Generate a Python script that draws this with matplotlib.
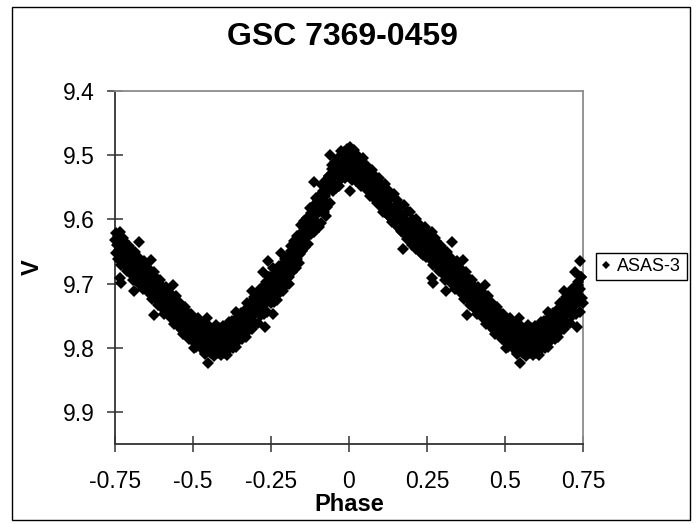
import numpy as np
import matplotlib
matplotlib.use('Agg')
import matplotlib.pyplot as plt
from matplotlib.patches import Rectangle

plt.rcParams['font.family'] = ['Liberation Sans', 'DejaVu Sans']

# ASAS-3 phased light curve of GSC 7369-0459, one cycle (-0.25 .. 0.75)
# points between 0.25 and 0.75 are drawn a second time one cycle earlier
phase = [
    -0.250, -0.247, -0.244, -0.242, -0.240, -0.237, -0.235, -0.232, -0.230, -0.227,
    -0.224, -0.221, -0.218, -0.216, -0.213, -0.210, -0.208, -0.205, -0.202, -0.200,
    -0.197, -0.194, -0.191, -0.189, -0.186, -0.183, -0.180, -0.177, -0.175, -0.172,
    -0.169, -0.166, -0.164, -0.161, -0.158, -0.155, -0.153, -0.150, -0.147, -0.144,
    -0.142, -0.139, -0.136, -0.133, -0.131, -0.128, -0.125, -0.122, -0.120, -0.117,
    -0.114, -0.112, -0.110, -0.107, -0.104, -0.101, -0.098, -0.095, -0.093, -0.090,
    -0.087, -0.084, -0.082, -0.079, -0.076, -0.073, -0.071, -0.068, -0.065, -0.062,
    -0.060, -0.057, -0.055, -0.052, -0.049, -0.047, -0.044, -0.041, -0.038, -0.036,
    -0.033, -0.030, -0.027, -0.024, -0.021, -0.018, -0.015, -0.012, -0.009, -0.006,
    -0.003,
    0.000, 0.002, 0.004, 0.005, 0.007, 0.009, 0.011, 0.013, 0.015, 0.018,
    0.020, 0.022, 0.025, 0.027, 0.030, 0.032, 0.035, 0.038, 0.040, 0.043,
    0.046, 0.048, 0.051, 0.054, 0.057, 0.060, 0.062, 0.065, 0.068, 0.071,
    0.073, 0.076, 0.079, 0.082, 0.085, 0.087, 0.090, 0.093, 0.096, 0.099,
    0.102, 0.105, 0.108, 0.111, 0.114, 0.117, 0.120, 0.123, 0.126, 0.129,
    0.132, 0.135, 0.138, 0.141, 0.144, 0.147, 0.150, 0.153, 0.156, 0.159,
    0.162, 0.165, 0.168, 0.171, 0.174, 0.177, 0.180, 0.183, 0.186, 0.189,
    0.192, 0.195, 0.198, 0.201, 0.204, 0.207, 0.210, 0.213, 0.216, 0.219,
    0.222, 0.225, 0.228, 0.231, 0.234, 0.237, 0.240, 0.243, 0.246, 0.249,
    0.252, 0.255, 0.258, 0.260, 0.263, 0.265, 0.266, 0.268, 0.269, 0.271,
    0.274, 0.277, 0.280, 0.283, 0.286, 0.289, 0.292, 0.295, 0.298, 0.301,
    0.304, 0.307, 0.310, 0.312, 0.315, 0.318, 0.321, 0.324, 0.327, 0.329,
    0.332, 0.335, 0.338, 0.341, 0.344, 0.347, 0.350, 0.353, 0.356, 0.359,
    0.362, 0.365, 0.368, 0.371, 0.374, 0.377, 0.380, 0.383, 0.386, 0.389,
    0.392, 0.395, 0.398, 0.401, 0.404, 0.407, 0.410, 0.413, 0.416, 0.419,
    0.422, 0.425, 0.428, 0.431, 0.434, 0.436, 0.439, 0.442, 0.445, 0.448,
    0.451, 0.454, 0.457, 0.460, 0.463, 0.466, 0.469, 0.472, 0.475, 0.478,
    0.481, 0.484, 0.487, 0.490, 0.493, 0.496, 0.499,
    0.502, 0.504, 0.505, 0.508, 0.511, 0.514, 0.517, 0.520, 0.523, 0.526,
    0.529, 0.532, 0.535, 0.538, 0.541, 0.544, 0.546, 0.548, 0.550, 0.553,
    0.556, 0.559, 0.562, 0.565, 0.568, 0.571, 0.574, 0.577, 0.580, 0.583,
    0.586, 0.589, 0.592, 0.595, 0.598, 0.601, 0.604, 0.607, 0.610, 0.613,
    0.616, 0.619, 0.622, 0.625, 0.628, 0.631, 0.634, 0.637, 0.640, 0.643,
    0.646, 0.649, 0.652, 0.655, 0.658, 0.661, 0.664, 0.667, 0.670, 0.673,
    0.676, 0.679, 0.682, 0.685, 0.688, 0.691, 0.694, 0.697, 0.700, 0.703,
    0.706, 0.709, 0.712, 0.715, 0.718, 0.721, 0.724, 0.727, 0.730, 0.732,
    0.735, 0.738, 0.740, 0.742, 0.745, 0.747,
]
vmag = [
    9.716, 9.702, 9.676, 9.748, 9.710, 9.694, 9.720, 9.698, 9.686, 9.708,
    9.692, 9.680, 9.652, 9.700, 9.684, 9.672, 9.694, 9.678, 9.664, 9.688,
    9.672, 9.658, 9.690, 9.666, 9.650, 9.672, 9.660, 9.644, 9.668, 9.652,
    9.638, 9.662, 9.646, 9.630, 9.654, 9.640, 9.622, 9.648, 9.632, 9.614,
    9.636, 9.624, 9.606, 9.628, 9.612, 9.600, 9.622, 9.606, 9.590, 9.612,
    9.598, 9.542, 9.584, 9.604, 9.578, 9.592, 9.570, 9.612, 9.584, 9.562,
    9.576, 9.556, 9.570, 9.548, 9.564, 9.594, 9.540, 9.556, 9.532, 9.548,
    9.500, 9.538, 9.522, 9.544, 9.516, 9.530, 9.546, 9.512, 9.526, 9.504,
    9.520, 9.536, 9.506, 9.518, 9.530, 9.500, 9.514, 9.526, 9.506, 9.520,
    9.532,
    9.496, 9.514, 9.488, 9.556, 9.508, 9.524, 9.502, 9.518, 9.532, 9.510,
    9.524, 9.540, 9.514, 9.530, 9.520, 9.536, 9.526, 9.544, 9.522, 9.536,
    9.530, 9.548, 9.534, 9.544, 9.530, 9.552, 9.540, 9.556, 9.544, 9.538,
    9.560, 9.548, 9.566, 9.552, 9.546, 9.570, 9.556, 9.574, 9.560, 9.552,
    9.578, 9.566, 9.584, 9.570, 9.562, 9.588, 9.576, 9.592, 9.578, 9.570,
    9.596, 9.584, 9.600, 9.588, 9.580, 9.604, 9.594, 9.610, 9.598, 9.590,
    9.614, 9.602, 9.618, 9.606, 9.646, 9.598, 9.622, 9.610, 9.630, 9.616,
    9.606, 9.632, 9.620, 9.640, 9.626, 9.614, 9.638, 9.626, 9.646, 9.632,
    9.620, 9.644, 9.632, 9.652, 9.638, 9.628, 9.650, 9.638, 9.658, 9.644,
    9.632, 9.652, 9.640, 9.626, 9.648, 9.692, 9.619, 9.656, 9.699, 9.642,
    9.660, 9.648, 9.634, 9.664, 9.652, 9.668, 9.656, 9.644, 9.672, 9.660,
    9.676, 9.664, 9.652, 9.712, 9.680, 9.668, 9.686, 9.672, 9.660, 9.635,
    9.690, 9.678, 9.696, 9.684, 9.672, 9.700, 9.688, 9.706, 9.692, 9.680,
    9.708, 9.663, 9.698, 9.716, 9.702, 9.749, 9.690, 9.720, 9.708, 9.726,
    9.712, 9.700, 9.730, 9.718, 9.736, 9.722, 9.710, 9.740, 9.726, 9.744,
    9.730, 9.718, 9.748, 9.736, 9.754, 9.702, 9.740, 9.728, 9.758, 9.746,
    9.764, 9.750, 9.738, 9.766, 9.754, 9.772, 9.758, 9.746, 9.776, 9.764,
    9.780, 9.766, 9.756, 9.784, 9.772, 9.788, 9.776,
    9.766, 9.800, 9.782, 9.770, 9.790, 9.778, 9.766, 9.794, 9.782, 9.772,
    9.798, 9.786, 9.776, 9.810, 9.790, 9.780, 9.754, 9.824, 9.796, 9.784,
    9.806, 9.792, 9.780, 9.802, 9.790, 9.770, 9.798, 9.786, 9.808, 9.794,
    9.776, 9.800, 9.788, 9.770, 9.796, 9.782, 9.806, 9.790, 9.774, 9.796,
    9.762, 9.784, 9.770, 9.792, 9.776, 9.760, 9.786, 9.744, 9.770, 9.790,
    9.756, 9.776, 9.762, 9.748, 9.772, 9.758, 9.780, 9.752, 9.740, 9.766,
    9.748, 9.736, 9.758, 9.742, 9.712, 9.750, 9.734, 9.724, 9.748, 9.730,
    9.718, 9.742, 9.724, 9.710, 9.736, 9.716, 9.682, 9.704, 9.767, 9.720,
    9.698, 9.728, 9.665, 9.708, 9.690, 9.722,
]

# points along the bright (upper) edge of the band
phase_hi = [
    -0.245, -0.235, -0.225, -0.215, -0.205, -0.195, -0.185, -0.175, -0.165, -0.155,
    -0.145, -0.135, -0.125, -0.115, -0.105, -0.095, -0.085, -0.075, -0.065, -0.055,
    -0.045, -0.035, -0.025, -0.015, -0.005, 0.005, 0.015, 0.025, 0.035, 0.045,
    0.055, 0.065, 0.075, 0.085, 0.095, 0.105, 0.115, 0.125, 0.135, 0.145,
    0.155, 0.165, 0.175, 0.185, 0.195, 0.205, 0.215, 0.225, 0.235, 0.245,
    0.255, 0.265, 0.275, 0.285, 0.295, 0.305, 0.315, 0.325, 0.335, 0.345,
    0.355, 0.365, 0.375, 0.385, 0.395, 0.405, 0.415, 0.425, 0.435, 0.445,
    0.455, 0.465, 0.475, 0.485, 0.495, 0.505, 0.515, 0.525, 0.535, 0.545,
    0.555, 0.565, 0.575, 0.585, 0.595, 0.605, 0.615, 0.625, 0.635, 0.645,
    0.655, 0.665, 0.675, 0.685, 0.695, 0.705, 0.715, 0.725, 0.735, 0.745,
]
vmag_hi = [
    9.688, 9.685, 9.672, 9.671, 9.661, 9.659, 9.641, 9.634, 9.626, 9.608,
    9.603, 9.598, 9.582, 9.579, 9.567, 9.564, 9.547, 9.540, 9.532, 9.515,
    9.511, 9.508, 9.494, 9.495, 9.491, 9.497, 9.492, 9.499, 9.506, 9.505,
    9.515, 9.524, 9.523, 9.533, 9.535, 9.547, 9.545, 9.554, 9.562, 9.560,
    9.570, 9.579, 9.577, 9.587, 9.589, 9.601, 9.599, 9.607, 9.614, 9.612,
    9.622, 9.631, 9.629, 9.639, 9.641, 9.653, 9.651, 9.660, 9.667, 9.665,
    9.675, 9.684, 9.682, 9.693, 9.695, 9.707, 9.705, 9.713, 9.721, 9.719,
    9.729, 9.738, 9.736, 9.746, 9.748, 9.758, 9.754, 9.761, 9.767, 9.763,
    9.769, 9.773, 9.765, 9.770, 9.766, 9.770, 9.760, 9.759, 9.757, 9.747,
    9.746, 9.744, 9.731, 9.730, 9.721, 9.721, 9.708, 9.706, 9.702, 9.690,
]

# points along the faint (lower) edge of the band
phase_lo = [
    -0.241, -0.231, -0.221, -0.211, -0.201, -0.191, -0.181, -0.171, -0.161, -0.151,
    -0.141, -0.131, -0.121, -0.111, -0.101, -0.091, -0.081, -0.071, -0.061, -0.051,
    -0.041, -0.031, -0.021, -0.011, -0.001, 0.009, 0.019, 0.029, 0.039, 0.049,
    0.059, 0.069, 0.079, 0.089, 0.099, 0.109, 0.119, 0.129, 0.139, 0.149,
    0.159, 0.169, 0.179, 0.189, 0.199, 0.209, 0.219, 0.229, 0.239, 0.249,
    0.259, 0.269, 0.279, 0.289, 0.299, 0.309, 0.319, 0.329, 0.339, 0.349,
    0.359, 0.369, 0.379, 0.389, 0.399, 0.409, 0.419, 0.429, 0.439, 0.449,
    0.459, 0.469, 0.479, 0.489, 0.499, 0.509, 0.519, 0.529, 0.539, 0.549,
    0.559, 0.569, 0.579, 0.589, 0.599, 0.609, 0.619, 0.629, 0.639, 0.649,
    0.659, 0.669, 0.679, 0.689, 0.699, 0.709, 0.719, 0.729, 0.739, 0.749,
]
vmag_lo = [
    9.728, 9.725, 9.713, 9.712, 9.703, 9.700, 9.682, 9.675, 9.668, 9.649,
    9.643, 9.638, 9.623, 9.620, 9.609, 9.605, 9.588, 9.581, 9.574, 9.556,
    9.551, 9.548, 9.535, 9.536, 9.533, 9.538, 9.533, 9.540, 9.548, 9.546,
    9.555, 9.564, 9.564, 9.574, 9.577, 9.588, 9.586, 9.595, 9.604, 9.601,
    9.610, 9.619, 9.618, 9.628, 9.631, 9.642, 9.640, 9.648, 9.656, 9.653,
    9.662, 9.671, 9.670, 9.680, 9.683, 9.694, 9.692, 9.701, 9.709, 9.706,
    9.715, 9.724, 9.723, 9.734, 9.737, 9.748, 9.746, 9.754, 9.763, 9.760,
    9.769, 9.778, 9.777, 9.787, 9.790, 9.799, 9.795, 9.802, 9.809, 9.804,
    9.809, 9.813, 9.806, 9.811, 9.808, 9.811, 9.801, 9.800, 9.799, 9.788,
    9.786, 9.784, 9.772, 9.771, 9.763, 9.762, 9.749, 9.747, 9.744, 9.731,
]

xticks = [-0.75, -0.5, -0.25, 0, 0.25, 0.5, 0.75]
xticklabels = ['-0.75', '-0.5', '-0.25', '0', '0.25', '0.5', '0.75']
yticks = [9.4, 9.5, 9.6, 9.7, 9.8, 9.9]
yticklabels = ['9.4', '9.5', '9.6', '9.7', '9.8', '9.9']

p_all = np.array(phase + phase_hi + phase_lo)
v_all = np.array(vmag + vmag_hi + vmag_lo)
late = p_all >= 0.25
x = np.concatenate([p_all, p_all[late] - 1])
y = np.concatenate([v_all, v_all[late]])

fig = plt.figure(figsize=(6.96, 5.24), dpi=100)
ax = fig.add_axes([0.165, 0.1527, 0.6726, 0.6736])

ax.plot(x, y, linestyle='none', marker='D', ms=6.0, mew=0, color='black',
        label='ASAS-3', clip_on=False, zorder=3)

ax.set_xlim(-0.75, 0.75)
ax.set_ylim(9.95, 9.4)
ax.set_xticks(xticks)
ax.set_xticklabels(xticklabels)
ax.set_yticks(yticks)
ax.set_yticklabels(yticklabels)
ax.tick_params(direction='inout', length=11, width=1.1, color='#333333',
               labelsize=16.5, pad=9)
ax.tick_params(axis='x', pad=13)

for s in ['left', 'bottom']:
    ax.spines[s].set_color('#333333')
    ax.spines[s].set_linewidth(1.3)
for s in ['top', 'right']:
    ax.spines[s].set_color('#8c8c8c')
    ax.spines[s].set_linewidth(1.3)

ax.set_xlabel('Phase', fontsize=17, fontweight='bold', labelpad=0)
ax.set_ylabel('V', fontsize=17, fontweight='bold', labelpad=14)
fig.text(0.4925, 0.929, 'GSC 7369-0459', fontsize=23, fontweight='bold',
         ha='center', va='center')

fig.legend(loc='center', bbox_to_anchor=(0.9217, 0.4914), fontsize=13,
           frameon=True, fancybox=False, edgecolor='black', framealpha=1,
           handlelength=0.5, handletextpad=0.35, borderpad=0.3,
           markerscale=0.7, borderaxespad=0)
fig.legends[0].get_frame().set_linewidth(1.0)

# outer chart border
fig.patches.append(Rectangle((12 / 696, 1 - 520 / 524), 678 / 696, 513 / 524,
                             transform=fig.transFigure, fill=False,
                             edgecolor='black', linewidth=1.0))

fig.savefig('out.png', dpi=100)
